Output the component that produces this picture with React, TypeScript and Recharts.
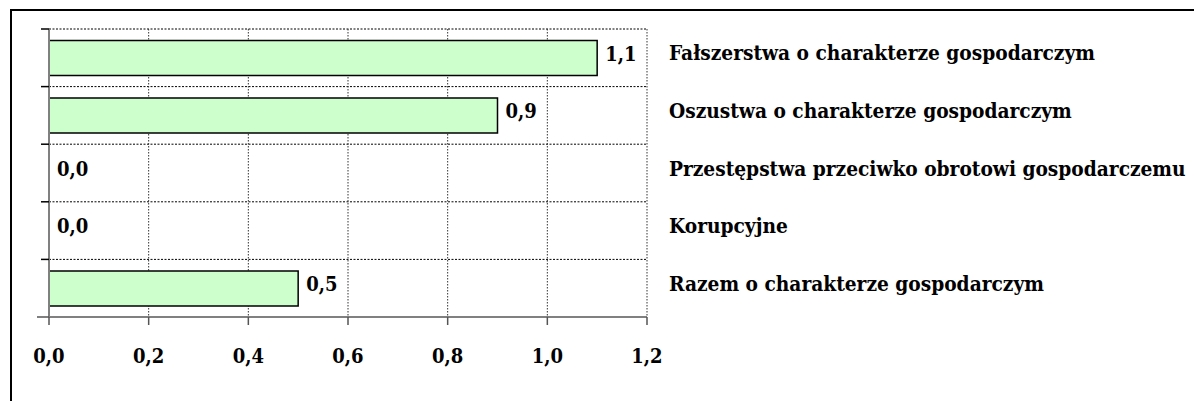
import React from "react";
import { BarChart, Bar, XAxis, YAxis, CartesianGrid, LabelList, Cell } from "recharts";

const categories = [
  "Fałszerstwa o charakterze gospodarczym",
  "Oszustwa o charakterze gospodarczym",
  "Przestępstwa przeciwko obrotowi gospodarczemu",
  "Korupcyjne",
  "Razem o charakterze gospodarczym",
];
const values = [1.1, 0.9, 0.0, 0.0, 0.5];
const xTicks = [0, 0.2, 0.4, 0.6, 0.8, 1.0, 1.2];

const data = categories.map((name, i) => ({ name, value: values[i] }));

const FONT = "'DejaVu Serif Condensed', 'DejaVu Serif', serif";
const fmt = (v: number) => Number(v).toFixed(1).replace(".", ",");

const CHART_W = 1194;
const CHART_H = 401;
const MARGIN = { top: 29, right: 0, left: 0, bottom: 0 };
const X_AXIS_H = 84;
const LEFT_W = 49;
const RIGHT_W = 547;

const textStyle = { fill: "#000", fontFamily: FONT, fontWeight: "bold" as const, fontSize: 20, fontStretch: "condensed" as const };
const catStyle = { ...textStyle, fontSize: 20.7 };

const CategoryTick = (props: any) => {
  const { x, y, payload } = props;
  return (
    <text x={x} y={y + 2.5} textAnchor="start" style={catStyle}>
      {payload.value}
    </text>
  );
};

const LeftTick = (props: any) => {
  const { x, y, payload, index, visibleTicksCount } = props;
  const plotH = CHART_H - MARGIN.top - MARGIN.bottom - X_AXIS_H;
  const half = payload && payload.offset ? payload.offset : plotH / categories.length / 2;
  const top = y - half;
  const last = index === (visibleTicksCount ?? categories.length) - 1;
  return (
    <g>
      <line x1={x - 8} x2={x} y1={top} y2={top} stroke="#000" strokeWidth={1.5} />
      {last && <line x1={x - 12} x2={x} y1={y + half} y2={y + half} stroke="#555" strokeWidth={1.5} />}
    </g>
  );
};

const XTick = (props: any) => {
  const { x, y, payload } = props;
  return (
    <text x={x} y={y + 38} textAnchor="middle" style={textStyle}>
      {fmt(payload.value)}
    </text>
  );
};

const ValueLabel = (props: any) => {
  const { x, y, width, height, value } = props;
  return (
    <text x={x + width + 8} y={y + height / 2 + 2.5} textAnchor="start" style={textStyle}>
      {fmt(value)}
    </text>
  );
};

const hGen = (p: any) => {
  const off = p && p.offset;
  if (off && typeof off.top === "number") {
    return categories.map((_, k) => off.top + (k * off.height) / categories.length);
  }
  return categories.map((c) => p.yAxis.scale(c));
};

export default function App() {
  return (
    <div>
      <div
        style={{
          position: "absolute",
          left: 10,
          top: 9,
          width: 1184,
          height: 392,
          borderTop: "2px solid #000",
          borderLeft: "2px solid #000",
          boxSizing: "border-box",
        }}
      />
      <div style={{ position: "absolute", left: 0, top: 0 }}>
        <BarChart
          width={CHART_W}
          height={CHART_H}
          data={data}
          layout="vertical"
          margin={MARGIN}
          barCategoryGap="20%"
        >
          <CartesianGrid
            yAxisId="cat"
            vertical={false}
            stroke="#000"
            strokeDasharray="2 1.5"
            strokeWidth={1}
            horizontalCoordinatesGenerator={hGen}
          />
          <CartesianGrid
            yAxisId="cat"
            horizontal={false}
            stroke="#333"
            strokeDasharray="1.5 1.5"
            strokeWidth={1}
          />
          <XAxis
            type="number"
            domain={[0, 1.2]}
            ticks={xTicks}
            height={X_AXIS_H}
            stroke="#808080"
            strokeWidth={2}
            tickSize={8}
            tickMargin={0}
            tick={<XTick />}
            tickLine={{ stroke: "#555", strokeWidth: 1.5 }}
          />
          <YAxis
            yAxisId="left"
            type="category"
            dataKey="name"
            orientation="left"
            width={LEFT_W}
            stroke="#808080"
            strokeWidth={2}
            tickSize={0}
            tickMargin={0}
            tickLine={false}
            tick={<LeftTick />}
          />
          <YAxis
            yAxisId="cat"
            type="category"
            dataKey="name"
            orientation="right"
            width={RIGHT_W}
            axisLine={false}
            tickLine={false}
            tickSize={0}
            tickMargin={22}
            tick={<CategoryTick />}
          />
          <Bar
            yAxisId="cat"
            dataKey="value"
            fill="#CCFFCC"
            stroke="#000"
            strokeWidth={1.5}
            minPointSize={0.01}
            isAnimationActive={false}
          >
            {data.map((d, i) => (
              <Cell key={i} fill={d.value === 0 ? "none" : "#CCFFCC"} stroke={d.value === 0 ? "none" : "#000"} />
            ))}
            <LabelList dataKey="value" content={<ValueLabel />} />
          </Bar>
        </BarChart>
      </div>
    </div>
  );
}
